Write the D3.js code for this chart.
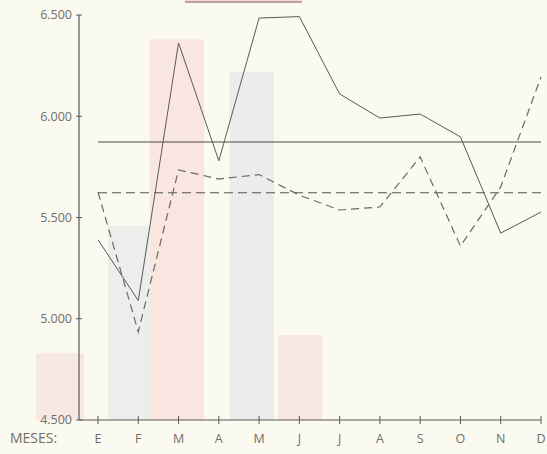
<!DOCTYPE html>
<html lang="es">
<head>
<meta charset="UTF-8">
<title>Meses</title>
<script src="https://d3js.org/d3.v7.min.js"></script>
<style>
    body { margin: 0; padding: 0; background: #fbfaf0; }
    svg { display: block; }
    text { font-family: "Open Sans", "DejaVu Sans", sans-serif; fill: #6f6f68; }
</style>
</head>
<body>
<div id="chart"></div>
<script>
    // month labels on the x axis
    const months = ["E", "F", "M", "A", "M", "J", "J", "A", "S", "O", "N", "D"];
    // solid series and its average
    const solidValues = [5390, 5090, 6362, 5780, 6485, 6492, 6110, 5991, 6011, 5898, 5423, 5527];
    const solidAverage = 5873;
    // dashed series and its average
    const dashedValues = [5626, 4935, 5735, 5690, 5712, 5610, 5537, 5552, 5799, 5359, 5651, 6194];
    const dashedAverage = 5622;
    // y tick labels
    const yTicks = [4500, 5000, 5500, 6000, 6500];
    const yTickLabels = ["4.500", "5.000", "5.500", "6.000", "6.500"];
    // faint bars showing through the paper (centre in month units, width in month units, value, colour)
    const ghostPos = [-0.94, 0.77, 1.96, 3.82, 5.02];
    const ghostWidth = [1.2, 1.05, 1.35, 1.1, 1.1];
    const ghostValues = [4830, 5460, 6380, 6220, 4920];
    const ghostColors = ["#f8e8e3", "#ebeeeb", "#f9e6e1", "#eaedeb", "#f9e7e3"];

    const W = 547, H = 454;
    const svg = d3.select("#chart").append("svg")
        .attr("width", W).attr("height", H);

    const x = d3.scaleLinear().domain([0, 11]).range([98, 541]);
    const y = d3.scaleLinear().domain([4500, 6500]).range([420, 15]);
    const axisX = 79;
    const step = x(1) - x(0);

    // ghost bars
    svg.selectAll(".ghost")
        .data(ghostValues)
        .enter().append("rect")
        .attr("class", "ghost")
        .attr("x", (d, i) => x(ghostPos[i]) - step * ghostWidth[i] / 2)
        .attr("width", (d, i) => step * ghostWidth[i])
        .attr("y", d => y(d))
        .attr("height", d => y(4500) - y(d))
        .attr("fill", (d, i) => ghostColors[i]);

    // cut off strip at the top
    svg.append("rect").attr("x", 185).attr("y", 0).attr("width", 117).attr("height", 3)
        .attr("fill", "#f2d6d0");
    svg.append("line").attr("x1", 185).attr("x2", 302).attr("y1", 2).attr("y2", 2)
        .attr("stroke", "#8a6e6a").attr("stroke-width", 1);

    // y axis
    svg.append("line")
        .attr("x1", axisX).attr("x2", axisX)
        .attr("y1", y(6500)).attr("y2", y(4500))
        .attr("stroke", "#5a5a55").attr("stroke-width", 1.2);
    svg.selectAll(".ytick")
        .data(yTicks)
        .enter().append("line")
        .attr("x1", axisX - 3).attr("x2", axisX + 3)
        .attr("y1", d => y(d)).attr("y2", d => y(d))
        .attr("stroke", "#5a5a55");
    svg.selectAll(".ylab")
        .data(yTicks)
        .enter().append("text")
        .attr("x", axisX - 7)
        .attr("y", d => y(d))
        .attr("dy", "0.35em")
        .attr("text-anchor", "end")
        .attr("font-size", 12.5)
        .text((d, i) => yTickLabels[i]);

    // x axis
    svg.append("line")
        .attr("x1", axisX).attr("x2", x(11))
        .attr("y1", y(4500)).attr("y2", y(4500))
        .attr("stroke", "#5a5a55").attr("stroke-width", 1.1);
    svg.selectAll(".xtick")
        .data(months)
        .enter().append("line")
        .attr("x1", (d, i) => x(i)).attr("x2", (d, i) => x(i))
        .attr("y1", y(4500) - 4).attr("y2", y(4500) + 4)
        .attr("stroke", "#5a5a55");
    svg.selectAll(".xlab")
        .data(months)
        .enter().append("text")
        .attr("x", (d, i) => x(i))
        .attr("y", 443)
        .attr("text-anchor", "middle")
        .attr("font-size", 12.5)
        .text(d => d);
    svg.append("text")
        .attr("x", 10).attr("y", 443)
        .attr("font-size", 14)
        .text("MESES:");

    // average lines
    svg.append("line")
        .attr("x1", x(0)).attr("x2", x(11))
        .attr("y1", y(solidAverage)).attr("y2", y(solidAverage))
        .attr("stroke", "#4a4a46").attr("stroke-width", 1.1);
    svg.append("line")
        .attr("x1", x(0)).attr("x2", x(11))
        .attr("y1", y(dashedAverage)).attr("y2", y(dashedAverage))
        .attr("stroke", "#55554f").attr("stroke-width", 1.1)
        .attr("stroke-dasharray", "9,5");

    const line = d3.line()
        .x((d, i) => x(i))
        .y(d => y(d));

    svg.append("path")
        .datum(solidValues)
        .attr("d", line)
        .attr("fill", "none")
        .attr("stroke", "#5a5a55")
        .attr("stroke-width", 1);

    svg.append("path")
        .datum(dashedValues)
        .attr("d", line)
        .attr("fill", "none")
        .attr("stroke", "#6a6a64")
        .attr("stroke-width", 1.2)
        .attr("stroke-dasharray", "8,5");
</script>
</body>
</html>
